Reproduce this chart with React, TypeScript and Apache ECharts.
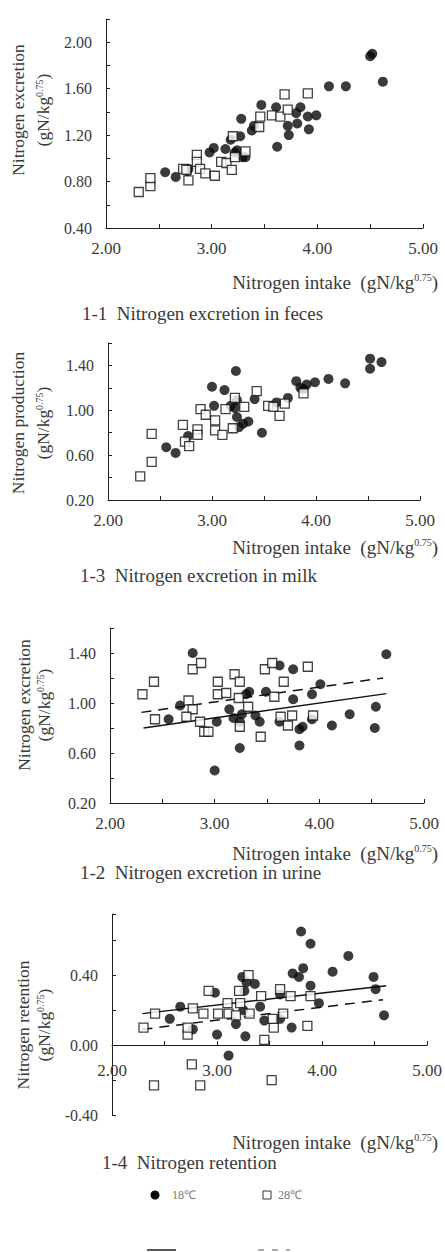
import React, { useEffect, useRef } from "react";
import * as echarts from "echarts";

// ---- data (x = nitrogen intake, y = response), gN/kg^0.75 ----
const xTicks = ["2.00", "3.00", "4.00", "5.00"];

const feces18: number[][] = [
  [4.50, 1.88], [4.52, 1.90], [4.62, 1.66], [4.11, 1.62], [4.27, 1.62], [3.47, 1.46], [3.61, 1.44],
  [3.84, 1.44], [3.80, 1.39], [3.91, 1.36], [3.99, 1.37], [3.72, 1.28], [3.81, 1.30], [3.92, 1.25],
  [3.73, 1.20], [3.62, 1.10], [3.28, 1.34], [3.40, 1.28], [3.38, 1.24], [3.27, 1.19], [3.18, 1.16],
  [3.24, 1.07], [3.29, 1.01], [3.32, 1.01], [3.13, 1.08], [3.02, 1.09], [2.98, 1.05], [2.78, 0.91],
  [2.56, 0.88], [2.66, 0.84], [3.22, 1.05], [2.77, 0.89],
];
const feces28: number[][] = [
  [2.31, 0.71], [2.42, 0.76], [2.42, 0.83], [2.73, 0.91], [2.78, 0.81], [2.86, 1.03], [2.86, 0.97],
  [2.89, 0.91], [2.94, 0.87], [3.03, 0.85], [3.09, 0.97], [3.14, 0.96], [3.19, 0.90], [3.20, 1.19],
  [3.32, 1.06], [3.46, 1.36], [3.57, 1.37], [3.65, 1.36], [3.69, 1.55], [3.72, 1.42], [3.91, 1.56],
  [3.45, 1.27], [2.76, 0.90], [3.22, 1.01],
];

const milk18: number[][] = [
  [4.52, 1.46], [4.63, 1.43], [4.52, 1.37], [3.23, 1.35], [3.00, 1.21], [3.12, 1.18], [3.02, 1.04],
  [3.24, 1.09], [3.18, 1.04], [3.41, 1.10], [3.24, 0.94], [3.30, 0.88], [3.35, 0.90], [3.26, 0.85],
  [3.48, 0.80], [3.62, 1.07], [3.73, 1.11], [3.81, 1.26], [3.85, 1.20], [3.91, 1.23], [3.99, 1.25],
  [4.12, 1.28], [4.28, 1.24], [2.56, 0.67], [2.65, 0.62], [2.77, 0.77], [3.88, 1.19], [3.22, 1.02],
];
const milk28: number[][] = [
  [2.31, 0.41], [2.42, 0.54], [2.42, 0.79], [2.72, 0.87], [2.74, 0.72], [2.78, 0.68], [2.86, 0.83],
  [2.86, 0.78], [2.89, 1.01], [2.94, 0.96], [3.03, 0.91], [3.03, 0.82], [3.10, 0.78], [3.13, 1.01],
  [3.20, 0.84], [3.22, 1.11], [3.31, 1.03], [3.43, 1.17], [3.54, 1.04], [3.59, 1.03], [3.65, 0.95],
  [3.70, 1.06], [3.88, 1.15],
];

const urine18: number[][] = [
  [2.79, 1.40], [2.67, 0.98], [2.56, 0.87], [3.02, 0.85], [3.00, 0.46], [3.24, 0.64], [3.14, 0.95],
  [3.18, 0.88], [3.26, 0.91], [3.24, 0.85], [3.30, 1.07], [3.33, 1.09], [3.39, 0.90], [3.43, 0.85],
  [3.49, 1.09], [3.62, 1.30], [3.75, 1.27], [3.75, 1.03], [3.62, 0.85], [3.81, 0.79], [3.84, 0.81],
  [3.81, 0.66], [3.93, 1.07], [3.93, 0.87], [4.01, 1.15], [4.12, 0.82], [4.29, 0.91], [4.53, 0.80],
  [4.54, 0.97], [4.64, 1.39],
];
const urine28: number[][] = [
  [2.31, 1.07], [2.42, 1.17], [2.43, 0.87], [2.75, 1.02], [2.79, 1.27], [2.87, 1.32], [2.79, 0.95],
  [2.73, 0.89], [2.86, 0.85], [2.90, 0.77], [2.94, 0.77], [3.03, 1.17], [3.03, 1.07], [3.11, 1.08],
  [3.19, 1.23], [3.24, 1.17], [3.23, 1.04], [3.24, 0.81], [3.32, 0.97], [3.44, 0.73], [3.48, 1.27],
  [3.55, 1.32], [3.57, 1.05], [3.66, 1.17], [3.63, 0.89], [3.70, 0.82], [3.74, 0.90], [3.89, 1.29],
  [3.94, 0.90],
];
const urineFit18: number[][] = [[2.32, 0.80], [4.64, 1.075]];
const urineFit28: number[][] = [[2.30, 0.925], [4.61, 1.20]];

const retention18: number[][] = [
  [3.80, 0.65], [3.89, 0.58], [4.25, 0.51], [4.10, 0.42], [4.49, 0.39], [4.51, 0.32], [4.59, 0.17],
  [3.72, 0.41], [3.78, 0.39], [3.82, 0.44], [3.89, 0.34], [3.97, 0.24], [3.60, 0.29], [3.60, 0.15],
  [3.71, 0.10], [3.24, 0.39], [3.28, 0.36], [3.36, 0.35], [3.26, 0.31], [3.41, 0.22], [3.45, 0.14],
  [3.25, 0.20], [3.18, 0.12], [3.27, 0.05], [3.11, -0.06], [3.00, 0.06], [2.98, 0.30], [2.77, 0.09],
  [2.65, 0.22], [2.55, 0.15],
];
const retention28: number[][] = [
  [2.30, 0.10], [2.41, 0.18], [2.40, -0.23], [2.72, 0.06], [2.72, 0.10], [2.77, 0.21], [2.76, -0.11],
  [2.84, -0.23], [2.87, 0.18], [2.92, 0.31], [3.01, 0.18], [3.10, 0.24], [3.11, 0.18], [3.21, 0.31],
  [3.22, 0.24], [3.30, 0.40], [3.31, 0.18], [3.42, 0.28], [3.45, 0.03], [3.54, 0.10], [3.52, -0.20],
  [3.53, 0.15], [3.60, 0.32], [3.63, 0.18], [3.70, 0.28], [3.86, 0.11], [3.89, 0.28], [3.18, 0.17],
];
const retentionFit18: number[][] = [[2.29, 0.18], [4.61, 0.34]];
const retentionFit28: number[][] = [[2.29, 0.09], [4.58, 0.26]];

const yNames = ["Nitrogen excretion", "Nitrogen production", "Nitrogen excretion", "Nitrogen retention"];
const titles = [
  "1-1  Nitrogen excretion in feces",
  "1-3  Nitrogen excretion in milk",
  "1-2  Nitrogen excretion in urine",
  "1-4  Nitrogen retention",
];
const legendNames = ["18℃", "28℃"];

const FONT = '"Liberation Serif", "Times New Roman", serif';
const TXT = "#3a3a3a";
const AX = "#1e1e1e";

export default function App() {
  const ref = useRef<HTMLDivElement>(null);
  useEffect(() => {
    if (!ref.current) return;
    const chart = echarts.init(ref.current, undefined, { renderer: "svg" });

    const grids = [
      { left: 106, top: 19, width: 317, height: 209 },
      { left: 108, top: 343, width: 312, height: 157 },
      { left: 110, top: 628, width: 314, height: 175 },
      { left: 112, top: 914, width: 319, height: 201 },
    ];
    const yCfg = [
      { min: 0.4, max: 2.2, base: 0.4 },
      { min: 0.2, max: 1.6, base: 0.2 },
      { min: 0.2, max: 1.6, base: 0.2 },
      { min: -0.4, max: 0.75, base: 0 },
    ];
    const isStep = (v: number, base: number, step: number) => {
      const k = (v - base) / step;
      return Math.abs(k - Math.round(k)) < 1e-6;
    };
    const xAxis = grids.map((_, i) => ({
      type: "value",
      gridIndex: i,
      min: 2,
      max: 5,
      interval: 0.5,
      axisLine: { show: true, onZero: i === 3, lineStyle: { color: AX, width: 1 } },
      axisTick: { show: true, inside: true, length: 4, lineStyle: { color: AX } },
      splitLine: { show: false },
      axisLabel: {
        inside: i === 3,
        margin: i === 3 ? 36 : 12,
        fontFamily: FONT,
        fontSize: 17,
        color: TXT,
        formatter: (v: number) => (isStep(v, 2, 1) ? xTicks[Math.round(v - 2)] : ""),
      },
    }));
    const yAxis = grids.map((_, i) => ({
      type: "value",
      gridIndex: i,
      min: yCfg[i].min,
      max: yCfg[i].max,
      interval: 0.2,
      axisLine: { show: true, lineStyle: { color: AX, width: 1 } },
      axisTick: { show: true, inside: true, length: 4, lineStyle: { color: AX } },
      splitLine: { show: false },
      axisLabel: {
        margin: 14,
        fontFamily: FONT,
        fontSize: 16,
        color: TXT,
        formatter: (v: number) =>
          isStep(v, yCfg[i].base, 0.4) && v < yCfg[i].max - 0.1 ? v.toFixed(2) : "",
      },
    }));

    const circle = (data: number[][], i: number, name: string) => ({
      type: "scatter",
      name,
      xAxisIndex: i,
      yAxisIndex: i,
      data,
      symbol: "circle",
      symbolSize: 10,
      itemStyle: { color: "#0a0a0a" },
    });
    const square = (data: number[][], i: number, name: string) => ({
      type: "scatter",
      name,
      xAxisIndex: i,
      yAxisIndex: i,
      data,
      symbol: "rect",
      symbolSize: 9,
      itemStyle: { color: "#ffffff", borderColor: "#111", borderWidth: 1.3 },
    });
    const fit = (data: number[][], i: number, dashed: boolean) => ({
      type: "line",
      xAxisIndex: i,
      yAxisIndex: i,
      data,
      showSymbol: false,
      lineStyle: { color: "#111", width: 1.5, type: dashed ? [10, 7] : "solid" },
      z: 1,
    });

    const sup = { fontSize: 10, fontFamily: FONT, fill: TXT, verticalAlign: "top", padding: [0, 0, 8, 0] };
    const big = { fontSize: 19, fontFamily: FONT, fill: TXT };
    const yn = { fontSize: 17.5, fontFamily: FONT, fill: TXT };

    const xNameY = [282, 547, 853, 1142];
    const titlePos = [
      [82, 313],
      [80, 575],
      [80, 872],
      [102, 1162],
    ];
    const yNameCenter = [110, 423, 705, 1025];
    const yNameX = [[18, 43], [18, 43], [24, 44], [23, 44]];

    const graphic: any[] = [];
    for (let i = 0; i < 4; i++) {
      graphic.push({
        type: "text",
        x: 438,
        y: xNameY[i],
        style: {
          text: "Nitrogen intake  (gN/kg{sup|0.75})",
          ...big,
          align: "right",
          verticalAlign: "middle",
          rich: { sup },
        },
      });
      graphic.push({
        type: "text",
        x: titlePos[i][0],
        y: titlePos[i][1],
        style: { text: titles[i], ...big, align: "left", verticalAlign: "middle" },
      });
      graphic.push({
        type: "text",
        x: yNameX[i][0],
        y: yNameCenter[i],
        rotation: Math.PI / 2,
        style: { text: yNames[i], ...yn, align: "center", verticalAlign: "middle" },
      });
      graphic.push({
        type: "text",
        x: yNameX[i][1],
        y: yNameCenter[i],
        rotation: Math.PI / 2,
        style: {
          text: "(gN/kg{sup|0.75})",
          ...yn,
          align: "center",
          verticalAlign: "middle",
          rich: { sup },
        },
      });
    }
    // legend
    graphic.push(
      { type: "circle", shape: { cx: 155, cy: 1195, r: 4.5 }, style: { fill: "#0a0a0a" } },
      {
        type: "text",
        x: 172,
        y: 1195,
        style: { text: legendNames[0], fontSize: 12, fontFamily: FONT, fill: "#777", verticalAlign: "middle" },
      },
      {
        type: "rect",
        shape: { x: 263, y: 1191, width: 8, height: 8 },
        style: { fill: "#fff", stroke: "#333", lineWidth: 1 },
      },
      {
        type: "text",
        x: 278,
        y: 1195,
        style: { text: legendNames[1], fontSize: 12, fontFamily: FONT, fill: "#777", verticalAlign: "middle" },
      },
      { type: "line", shape: { x1: 147, y1: 1250, x2: 176, y2: 1250 }, style: { stroke: "#222", lineWidth: 1.5 } },
      {
        type: "line",
        shape: { x1: 258, y1: 1250, x2: 290, y2: 1250 },
        style: { stroke: "#555", lineWidth: 1.2, lineDash: [6, 8] },
      }
    );

    chart.setOption({
      animation: false,
      backgroundColor: "#ffffff",
      grid: grids,
      xAxis,
      yAxis,
      series: [
        circle(feces18, 0, legendNames[0]),
        square(feces28, 0, legendNames[1]),
        circle(milk18, 1, legendNames[0]),
        square(milk28, 1, legendNames[1]),
        fit(urineFit18, 2, false),
        fit(urineFit28, 2, true),
        circle(urine18, 2, legendNames[0]),
        square(urine28, 2, legendNames[1]),
        fit(retentionFit18, 3, false),
        fit(retentionFit28, 3, true),
        circle(retention18, 3, legendNames[0]),
        square(retention28, 3, legendNames[1]),
      ],
      graphic,
    });
    return () => chart.dispose();
  }, []);
  return (
    <div
      ref={ref}
      style={{ position: "absolute", left: 0, top: 0, width: 445, height: 1252, background: "#fff" }}
    />
  );
}
